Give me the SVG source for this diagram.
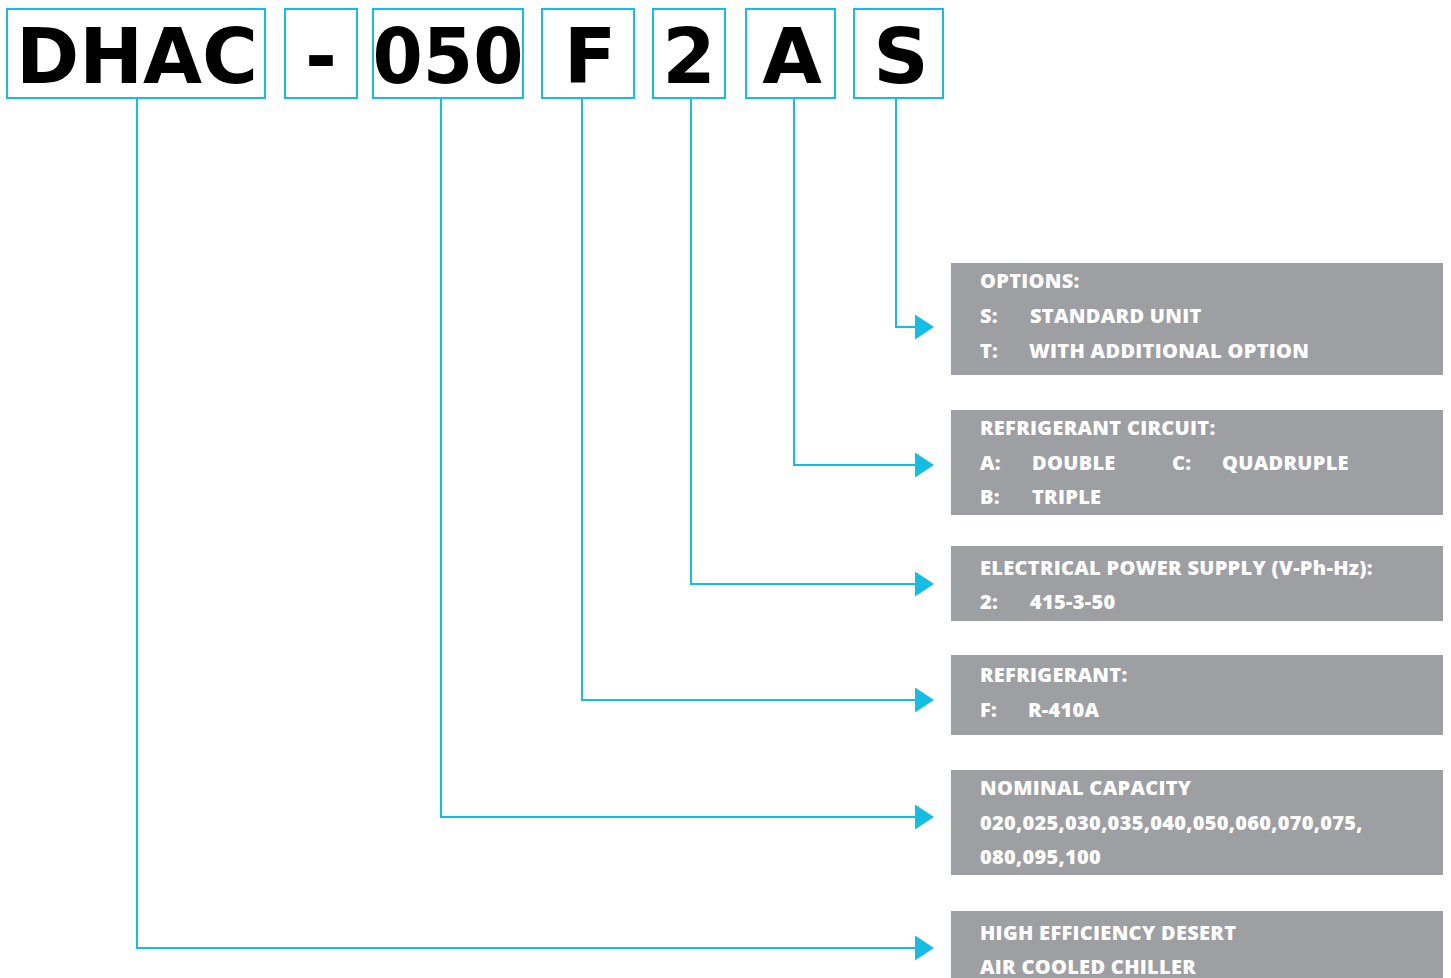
<svg xmlns="http://www.w3.org/2000/svg" width="1451" height="978" viewBox="0 0 1451 978">
<style>
.code{fill:#fff;stroke:#16bde3;stroke-width:2}
.ct{font-family:"DejaVu Sans",sans-serif;font-weight:bold;font-size:77px;fill:#000;text-anchor:middle}
.panel{fill:#9e9fa3}
.pt{font-family:"Open Sans",sans-serif;font-weight:800;font-size:20px;letter-spacing:0.3px;fill:#fff}
.conn{fill:none;stroke:#16bde3;stroke-width:2}
</style>
<defs>
<marker id="arr" markerUnits="userSpaceOnUse" markerWidth="20" markerHeight="26" refX="1" refY="12.5" orient="auto">
<path d="M0,0 L19,12.5 L0,25 Z" fill="#16bde3"/>
</marker>
</defs>
<rect width="1451" height="978" fill="#fff"/>
<g id="code-DHAC"><rect class="code" x="7" y="9" width="258" height="89"/><text class="ct" x="137" y="83" textLength="242" lengthAdjust="spacingAndGlyphs">DHAC</text></g>
<g id="code-dash"><rect class="code" x="285" y="9" width="72" height="89"/><text class="ct" x="321" y="83">-</text></g>
<g id="code-050"><rect class="code" x="373" y="9" width="150" height="89"/><text class="ct" x="448" y="83" textLength="151" lengthAdjust="spacingAndGlyphs">050</text></g>
<g id="code-F"><rect class="code" x="542" y="9" width="92" height="89"/><text class="ct" x="590" y="83">F</text></g>
<g id="code-2"><rect class="code" x="653" y="9" width="72" height="89"/><text class="ct" x="689" y="83">2</text></g>
<g id="code-A"><rect class="code" x="746" y="9" width="89" height="89"/><text class="ct" x="792" y="83">A</text></g>
<g id="code-S"><rect class="code" x="854" y="9" width="89" height="89"/><text class="ct" x="901" y="83">S</text></g>
<g id="connectors">
<path class="conn" marker-end="url(#arr)" d="M896,98 V327 H916"/>
<path class="conn" marker-end="url(#arr)" d="M794,98 V465 H916"/>
<path class="conn" marker-end="url(#arr)" d="M691,98 V584 H916"/>
<path class="conn" marker-end="url(#arr)" d="M582,98 V700 H916"/>
<path class="conn" marker-end="url(#arr)" d="M441,98 V817 H916"/>
<path class="conn" marker-end="url(#arr)" d="M137,98 V948 H916"/>
</g>
<g id="panel-options"><rect class="panel" x="951" y="263" width="492" height="112"/>
<text class="pt" x="980" y="288">OPTIONS:</text>
<text class="pt" x="980" y="323">S:</text><text class="pt" x="1030" y="323">STANDARD UNIT</text>
<text class="pt" x="980" y="358">T:</text><text class="pt" x="1029" y="358">WITH ADDITIONAL OPTION</text></g>
<g id="panel-circuit"><rect class="panel" x="951" y="410" width="492" height="105"/>
<text class="pt" x="980" y="435">REFRIGERANT CIRCUIT:</text>
<text class="pt" x="980" y="470">A:</text><text class="pt" x="1032" y="470">DOUBLE</text>
<text class="pt" x="1172" y="470">C:</text><text class="pt" x="1222" y="470">QUADRUPLE</text>
<text class="pt" x="980" y="504">B:</text><text class="pt" x="1032" y="504">TRIPLE</text></g>
<g id="panel-power"><rect class="panel" x="951" y="546" width="492" height="75"/>
<text class="pt" x="980" y="575">ELECTRICAL POWER SUPPLY (V-Ph-Hz):</text>
<text class="pt" x="980" y="609">2:</text><text class="pt" x="1030" y="609">415-3-50</text></g>
<g id="panel-refrigerant"><rect class="panel" x="951" y="655" width="492" height="80"/>
<text class="pt" x="980" y="682">REFRIGERANT:</text>
<text class="pt" x="980" y="717">F:</text><text class="pt" x="1028" y="717">R-410A</text></g>
<g id="panel-capacity"><rect class="panel" x="951" y="770" width="492" height="105"/>
<text class="pt" x="980" y="795">NOMINAL CAPACITY</text>
<text class="pt" x="980" y="830">020,025,030,035,040,050,060,070,075,</text>
<text class="pt" x="980" y="864">080,095,100</text></g>
<g id="panel-type"><rect class="panel" x="951" y="911" width="492" height="67"/>
<text class="pt" x="980" y="940">HIGH EFFICIENCY DESERT</text>
<text class="pt" x="980" y="974">AIR COOLED CHILLER</text></g>
</svg>
